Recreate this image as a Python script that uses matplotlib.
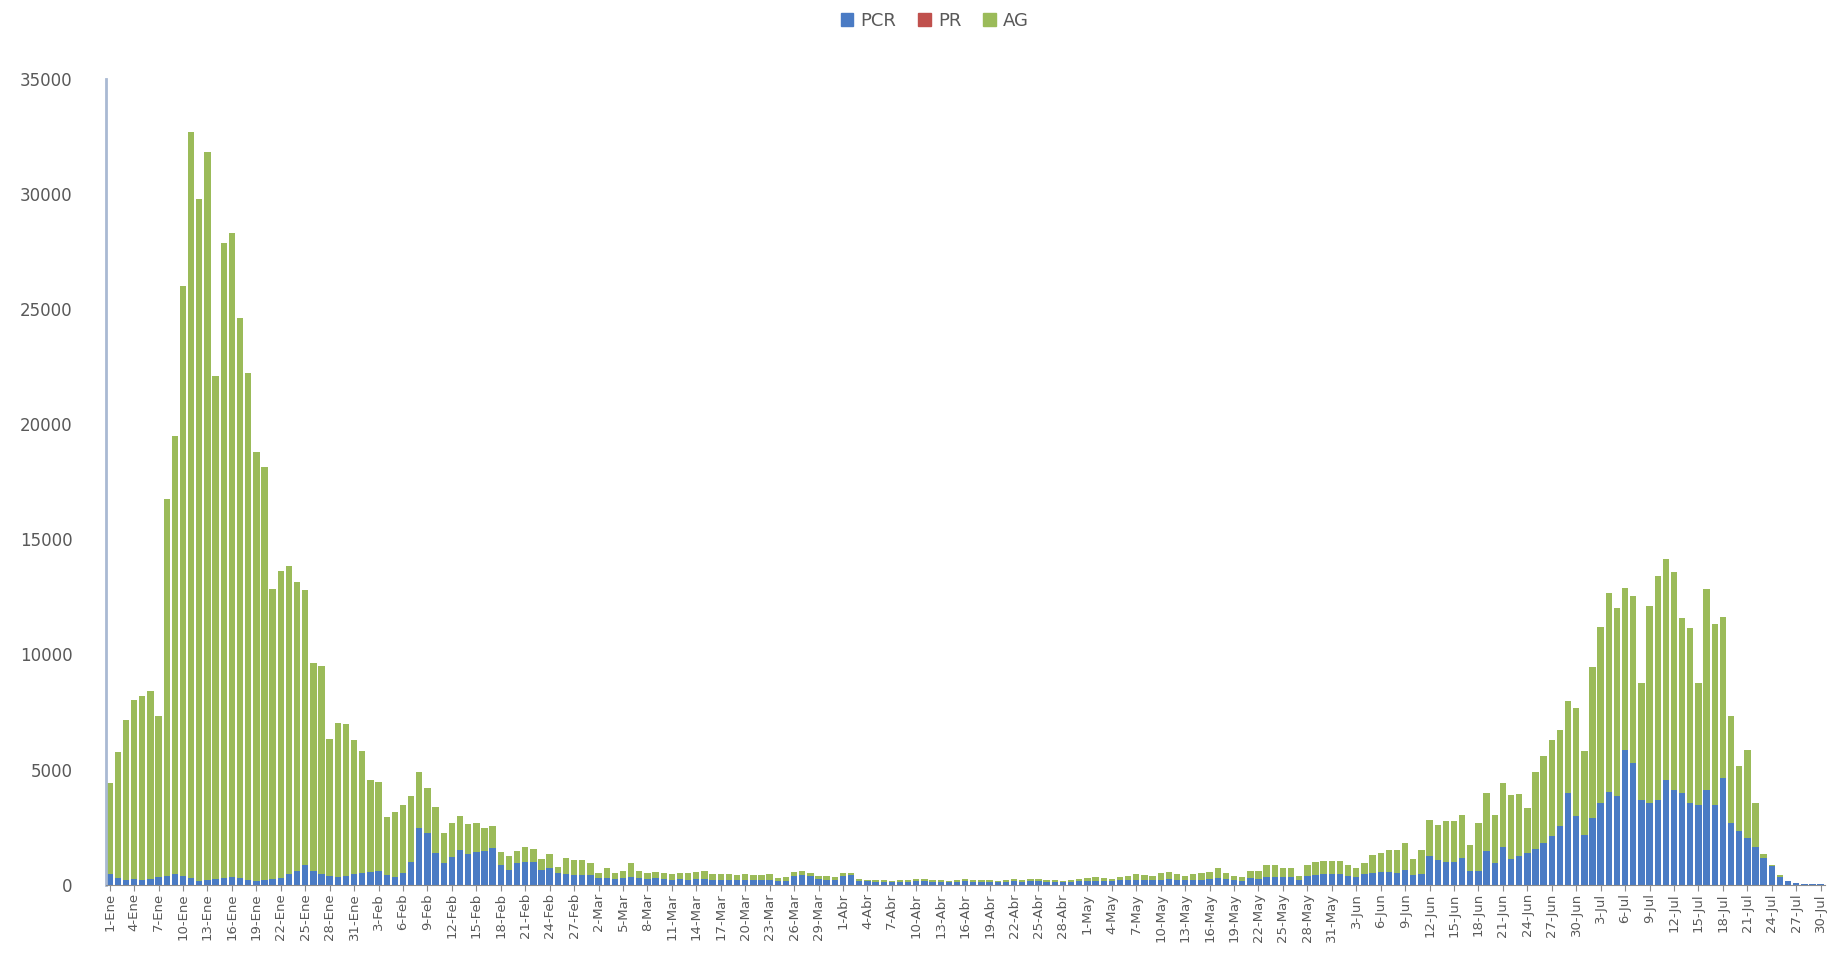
import numpy as np
import pandas as pd
import matplotlib
matplotlib.use("Agg")
import matplotlib.pyplot as plt
from matplotlib.patches import Patch

# daily totals (PCR + PR + AG), 1-Ene .. 30-Jul
total = [
    4420, 5750, 7140, 8030, 8190, 8420, 7330, 16750, 19470, 25980,
    32680, 29770, 31800, 22100, 27870, 28310, 24590, 22210, 18770, 18140,
    12860, 13610, 13840, 13140, 12790, 9650, 9490, 6330, 7020, 6980,
    6280, 5815, 4535, 4450, 2960, 3175, 3465, 3855, 4910, 4190,
    3390, 2265, 2700, 2990, 2640, 2700, 2480, 2550, 1440, 1250,
    1480, 1650, 1540, 1100, 1340, 790, 1150, 1080, 1080, 960,
    530, 715, 500, 610, 930, 600, 520, 560, 500, 480,
    520, 500, 540, 600, 470, 450, 460, 440, 470, 430,
    420, 450, 290, 360, 560, 600, 520, 400, 380, 350,
    500, 520, 260, 230, 210, 190, 180, 200, 220, 240,
    250, 230, 200, 180, 220, 240, 230, 210, 190, 180,
    200, 250, 220, 240, 260, 230, 200, 180, 220, 260,
    300, 330, 280, 260, 360, 400, 460, 430, 380, 500,
    550, 480, 400, 450, 505, 535, 720, 505, 390, 360,
    620, 580, 840, 840, 720, 720, 390, 870, 970, 1055,
    1055, 1055, 870, 720, 940, 1300, 1375, 1520, 1490, 1810,
    1115, 1520, 2820, 2600, 2790, 2750, 3040, 1735, 2680, 3980,
    3040, 4430, 3920, 3940, 3330, 4900, 5580, 6300, 6710, 8000,
    7670, 5810, 9450, 11170, 12660, 12010, 12880, 12550, 8750, 12110,
    13410, 14140, 13600, 11580, 11140, 8750, 12830, 11330, 11620, 7310,
    5140, 5860, 3570, 1350, 870, 430, 145, 70, 40, 30,
    20,
]

pcr = [
    450, 300, 200, 250, 200, 250, 350, 400, 450, 400,
    300, 150, 200, 250, 300, 350, 300, 200, 150, 200,
    250, 300, 450, 600, 850, 600, 450, 400, 350, 400,
    450, 500, 550, 600, 430, 350, 500, 1000, 2450, 2235,
    1380, 930, 1220, 1510, 1340, 1440, 1480, 1580, 860, 640,
    930, 1000, 1000, 640, 715, 500, 470, 430, 430, 430,
    290, 300, 250, 300, 350, 300, 250, 280, 250, 220,
    250, 230, 250, 260, 220, 220, 230, 220, 230, 220,
    200, 220, 150, 180, 400, 430, 380, 250, 220, 200,
    400, 420, 180, 150, 140, 130, 120, 130, 140, 150,
    150, 140, 130, 120, 140, 150, 140, 130, 120, 110,
    130, 150, 140, 150, 150, 140, 130, 110, 130, 150,
    170, 180, 160, 150, 190, 200, 220, 210, 190, 230,
    250, 230, 200, 200, 220, 250, 300, 250, 200, 180,
    280, 270, 350, 350, 320, 320, 200, 380, 420, 450,
    450, 450, 400, 350, 450, 500, 550, 550, 500, 650,
    430, 450, 1250, 1085, 1010, 1000, 1160, 580, 600, 1450,
    940, 1660, 1120, 1270, 1375, 1550, 1810, 2100, 2560, 4000,
    3000, 2150, 2900, 3545, 4050, 3835, 5860, 5280, 3690, 3545,
    3690, 4560, 4120, 3980, 3545, 3470, 4120, 3470, 4630, 2680,
    2315, 2030, 1660, 1160, 800, 360, 145, 70, 40, 30,
    20,
]

month_es = {1: "Ene", 2: "Feb", 3: "Mar", 4: "Abr", 5: "May", 6: "Jun", 7: "Jul"}
dates = pd.date_range("2022-01-01", "2022-07-30", freq="D")
labels = [f"{d.day}-{month_es[d.month]}" for d in dates]

pcr = np.array(pcr)
pr = np.zeros(len(dates))  # PR too small to show
ag = np.array(total) - pcr - pr

c_pcr = "#4a7bc4"
c_pr = "#c0504d"
c_ag = "#9bbb59"

fig = plt.figure(figsize=(18.4, 9.58), dpi=100)
ax = fig.add_axes([0.0574, 0.0764, 0.9343, 0.8416])

x = np.arange(len(dates))
w = 0.78
ax.bar(x, pcr, w, color=c_pcr, linewidth=0)
ax.bar(x, pr, w, bottom=pcr, color=c_pr, linewidth=0)
ax.bar(x, ag, w, bottom=pcr + pr, color=c_ag, linewidth=0)

ax.set_xlim(-0.5, len(dates) - 0.5)
ax.set_ylim(0, 35000)
ax.set_yticks(np.arange(0, 35001, 5000))
ax.tick_params(axis="y", length=0, labelsize=12, labelcolor="#595959", pad=24)

ax.set_xticks(x[::3])
ax.set_xticklabels(labels[::3], rotation=90, fontsize=9.5, color="#595959")
ax.tick_params(axis="x", length=4, color="#8c8c8c", pad=2)

for s in ["top", "right"]:
    ax.spines[s].set_visible(False)
ax.spines["left"].set_color("#a9b9d3")
ax.spines["left"].set_linewidth(2)
ax.spines["bottom"].set_color("#8c8c8c")

handles = [Patch(color=c_pcr, label="PCR"), Patch(color=c_pr, label="PR"),
           Patch(color=c_ag, label="AG")]
fig.legend(handles=handles, loc="center", bbox_to_anchor=(0.508, 0.978), ncol=3,
           frameon=False, fontsize=13, handlelength=0.7, handleheight=0.7,
           handletextpad=0.4, columnspacing=1.2, labelcolor="#595959")

fig.savefig("out.png", dpi=100)
